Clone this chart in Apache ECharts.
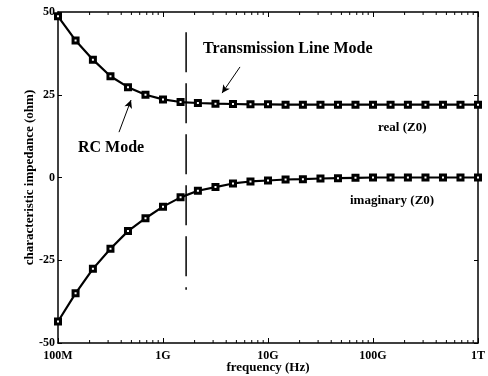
<!DOCTYPE html>
<html>
<head>
<meta charset="utf-8">
<script src="https://cdn.jsdelivr.net/npm/echarts@6/dist/echarts.min.js"></script>
<style>
  html, body { margin: 0; padding: 0; background: #fff; }
  #chart { width: 488px; height: 376px; }
</style>
</head>
<body>
<div id="chart"></div>
<script>
// frequencies of the sample points (Hz), 6 per decade
var freqs = [
  1e8, 1.47e8, 2.15e8, 3.16e8, 4.64e8, 6.81e8,
  1e9, 1.47e9, 2.15e9, 3.16e9, 4.64e9, 6.81e9,
  1e10, 1.47e10, 2.15e10, 3.16e10, 4.64e10, 6.81e10,
  1e11, 1.47e11, 2.15e11, 3.16e11, 4.64e11, 6.81e11,
  1e12
];
// real(Z0), ohm
var realZ = [
  48.7, 41.4, 35.6, 30.6, 27.3, 25.0, 23.6, 22.8, 22.5, 22.3, 22.2, 22.1,
  22.1, 22.0, 22.0, 22.0, 22.0, 22.0, 22.0, 22.0, 22.0, 22.0, 22.0, 22.0, 22.0
];
// imaginary(Z0), ohm
var imagZ = [
  -43.5, -35.0, -27.6, -21.5, -16.2, -12.3, -8.8, -6.0, -4.0, -2.9, -1.8, -1.2,
  -0.9, -0.6, -0.5, -0.3, -0.2, -0.1, 0, 0, 0, 0, 0, 0, 0
];
// mode boundary (dash-dot line)
var boundaryFreq = 1.66e9;
var boundaryY = [43.9, -33.9];
// arrows: [fromFreq, fromY, toFreq, toY]
var arrows = [
  [5.41e9, 33.4, 3.65e9, 25.5],
  [3.81e8, 13.7, 4.96e8, 23.4]
];
// x tick labels
var xLabels = { 1e8: '100M', 1e9: '1G', 1e10: '10G', 1e11: '100G', 1e12: '1T' };
// minor log ticks
var minorTicks = [];
[1e8, 1e9, 1e10, 1e11].forEach(function (d) {
  for (var m = 2; m <= 9; m++) minorTicks.push(d * m);
});

var font = 'Liberation Serif';
var chart = echarts.init(document.getElementById('chart'));

function xy(xs, ys) {
  var out = [];
  for (var i = 0; i < xs.length; i++) out.push([xs[i], ys[i]]);
  return out;
}

var axisLine = { show: true, onZero: false, lineStyle: { color: '#000', width: 1.5 } };

var option = {
  animation: false,
  grid: { left: 58, right: 10, top: 12, bottom: 33, outerBoundsMode: 'none' },
  xAxis: [
    {
      type: 'log', logBase: 10, min: 1e8, max: 1e12, splitNumber: 4,
      position: 'bottom',
      axisLine: axisLine,
      axisTick: { show: true, inside: true, length: 5, lineStyle: { color: '#000', width: 1 } },
      splitLine: { show: false },
      axisLabel: {
        color: '#000', fontFamily: font, fontWeight: 'bold', fontSize: 12, margin: 7,
        formatter: function (v) { return xLabels[Math.round(v)] || ''; }
      },
      name: 'frequency (Hz)', nameLocation: 'middle', nameGap: 18, nameMoveOverlap: false,
      nameTextStyle: { color: '#000', fontFamily: font, fontWeight: 'bold', fontSize: 13 }
    },
    {
      type: 'log', logBase: 10, min: 1e8, max: 1e12, splitNumber: 4,
      position: 'top',
      axisLine: axisLine,
      axisTick: { show: true, inside: true, length: 5, lineStyle: { color: '#000', width: 1 } },
      splitLine: { show: false },
      axisLabel: { show: false }
    }
  ],
  yAxis: [
    {
      type: 'value', min: -50, max: 50, interval: 25,
      position: 'left',
      axisLine: axisLine,
      axisTick: { show: true, inside: true, length: 4, lineStyle: { color: '#000', width: 1 } },
      splitLine: { show: false },
      axisLabel: { color: '#000', fontFamily: font, fontWeight: 'bold', fontSize: 12, margin: 3 },
      name: 'characteristic impedance (ohm)', nameLocation: 'middle', nameGap: 22, nameMoveOverlap: false,
      nameTextStyle: { color: '#000', fontFamily: font, fontWeight: 'bold', fontSize: 13 }
    },
    {
      type: 'value', min: -50, max: 50, interval: 25,
      position: 'right',
      axisLine: axisLine,
      axisTick: { show: true, inside: true, length: 4, lineStyle: { color: '#000', width: 1 } },
      splitLine: { show: false },
      axisLabel: { show: false }
    }
  ],
  graphic: [
    { type: 'text', left: 203, top: 41, style: { text: 'Transmission Line Mode', font: 'bold 16px "Liberation Serif"', fill: '#000' } },
    { type: 'text', left: 78, top: 140, style: { text: 'RC Mode', font: 'bold 16px "Liberation Serif"', fill: '#000' } },
    { type: 'text', left: 378, top: 121, style: { text: 'real (Z0)', font: 'bold 13px "Liberation Serif"', fill: '#000' } },
    { type: 'text', left: 350, top: 194, style: { text: 'imaginary (Z0)', font: 'bold 13px "Liberation Serif"', fill: '#000' } }
  ],
  series: [
    {
      name: 'real (Z0)', type: 'line', data: xy(freqs, realZ),
      symbol: 'rect', symbolSize: 5, showAllSymbol: true,
      lineStyle: { color: '#000', width: 2.2 },
      itemStyle: { color: '#fff', borderColor: '#000', borderWidth: 3 },
      clip: false, z: 3
    },
    {
      name: 'imaginary (Z0)', type: 'line', data: xy(freqs, imagZ),
      symbol: 'rect', symbolSize: 5, showAllSymbol: true,
      lineStyle: { color: '#000', width: 2.2 },
      itemStyle: { color: '#fff', borderColor: '#000', borderWidth: 3 },
      clip: false, z: 3
    },
    {
      name: 'boundary', type: 'line', data: [[boundaryFreq, boundaryY[0]], [boundaryFreq, boundaryY[1]]],
      symbol: 'none', silent: true,
      lineStyle: { color: '#000', width: 1.5, type: [40, 11] },
      z: 2,
      markLine: {
        silent: true, symbol: ['none', 'arrow'], symbolSize: [6, 8],
        label: { show: false },
        lineStyle: { color: '#000', width: 1, type: 'solid' },
        data: arrows.map(function (a) {
          return [{ coord: [a[0], a[1]] }, { coord: [a[2], a[3]] }];
        })
      }
    },
    {
      name: 'minor ticks', type: 'custom', silent: true,
      data: minorTicks.map(function (v) { return [v, 0]; }),
      renderItem: function (params, api) {
        var b = api.coord([api.value(0), -50]);
        var t = api.coord([api.value(0), 50]);
        var st = { stroke: '#000', lineWidth: 1 };
        return {
          type: 'group',
          children: [
            { type: 'line', shape: { x1: b[0], y1: b[1], x2: b[0], y2: b[1] - 3 }, style: st },
            { type: 'line', shape: { x1: t[0], y1: t[1], x2: t[0], y2: t[1] + 3 }, style: st }
          ]
        };
      },
      clip: false
    }
  ]
};

chart.setOption(option);
</script>
</body>
</html>
